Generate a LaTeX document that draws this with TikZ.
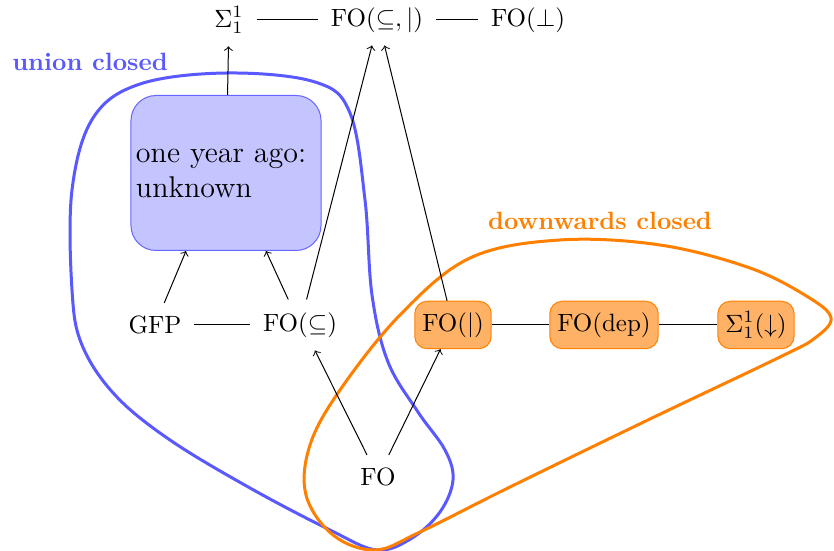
\documentclass[tikz,border=0pt]{standalone}
\usepackage{amssymb}
\tikzset{
    logic/.style = {inner sep=5pt},
    downbox/.style = {
        draw=orange, fill=orange!60, rounded corners=5pt, minimum height=19pt, inner xsep=3pt
    },
    unkbox/.style = {
        draw=blue!60, fill=blue!23, rounded corners=10pt, font=\large,
        minimum width=76pt, minimum height=62pt, inner xsep=2pt, text width=72pt, align=left
    },
    closure/.style = {very thick, draw=#1},
    famlabel/.style = {font=\bfseries, text=#1}
}

\begin{document}
\begin{tikzpicture}[x=0.4pt, y=-0.4pt]
    \useasboundingbox (0,0) rectangle (834,551);
    % the two closure regions
    \draw[closure=blue!65] plot[smooth cycle, tension=0.6] coordinates {
        (377,550) (330,530) (250,488) (170,440) (115,395) (82,345) (72,290)
        (72,190) (93,118) (140,84) (227,73) (315,82) (350,113) (365,200)
        (372,295) (388,362) (418,412) (445,450) (453,480) (440,512) (412,538)};
    \draw[closure=orange] plot[smooth cycle, tension=0.6] coordinates {
        (375,550) (333,535) (306,495) (310,445) (340,390) (400,315) (470,258)
        (560,240) (660,245) (750,268) (808,297) (831,318) (815,338) (780,357)
        (650,419) (510,487) (420,532)};
    \node[famlabel=blue!65] (union) at (90,62) {union closed};
    \node[famlabel=orange] (down) at (600,221) {downwards closed};

    \node[logic] (sigma) at (229,20) {$\Sigma^1_1$};
    \node[logic] (foboth) at (377,20) {FO($\subseteq,|$)};
    \node[logic] (fobot) at (528,20) {FO($\bot$)};
    \node[unkbox] (unk) at (226,173) {one year ago:\\unknown};
    \node[logic] (gfp) at (155,325) {GFP};
    \node[logic] (foinc) at (300,325) {FO($\subseteq$)};
    \node[downbox] (foexc) at (453,325) {FO($|$)};
    \node[downbox] (fodep) at (604,325) {FO(dep)};
    \node[downbox] (sigdown) at (756,325) {$\Sigma^1_1(\downarrow)$};
    \node[logic] (fo) at (378,477) {FO};

    \draw (sigma) -- (foboth) -- (fobot);
    \draw (gfp) -- (foinc);
    \draw (foexc) -- (fodep) -- (sigdown);
    \draw[->] (unk) -- (sigma);
    \draw[->] (gfp) -- ([xshift=-16pt]unk.south);
    \draw[->] (foinc) -- ([xshift=16pt]unk.south);
    \draw[->] (foinc) -- ([xshift=-2pt]foboth.south);
    \draw[->] (foexc) -- ([xshift=3pt]foboth.south);
    \draw[->] (fo) -- ([xshift=6pt]foinc.south);
    \draw[->] (fo) -- ([xshift=-5pt]foexc.south);
\end{tikzpicture}
\end{document}
